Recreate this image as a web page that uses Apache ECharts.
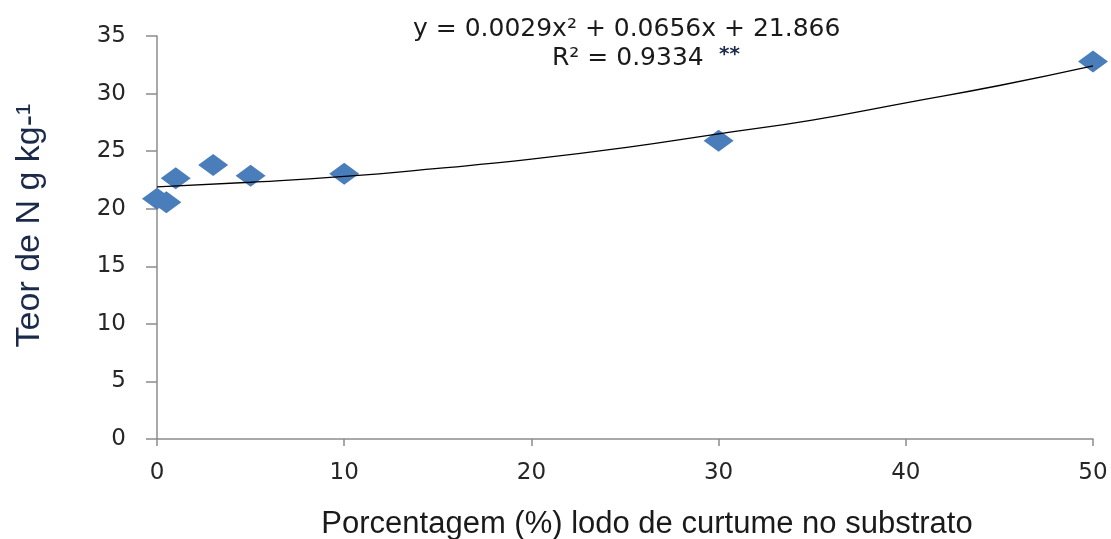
<!DOCTYPE html>
<html><head><meta charset="utf-8">
<script src="https://cdn.jsdelivr.net/npm/echarts@6/dist/echarts.min.js"></script>
<style>html,body{margin:0;padding:0;background:#fff}#c{width:1111px;height:539px}</style>
</head><body><div id="c"></div>
<script>
// Observed points: x = % tannery sludge, y = N content (g/kg)
const pctX = [0, 0.5, 1, 3, 5, 10, 30, 50];
const nValues = [20.86, 20.57, 22.65, 23.8, 22.86, 23.03, 25.9, 32.78];
// Trend curve
const trendX = [0, 5, 10, 15, 20, 25, 30, 35, 40, 45, 50];
const trendY = [21.9, 22.3, 22.8, 23.5, 24.3, 25.3, 26.5, 27.7, 29.2, 30.7, 32.4];
const xTicks = [0, 10, 20, 30, 40, 50];
const yTicks = [0, 5, 10, 15, 20, 25, 30, 35];
const equationText = 'y = 0.0029x² + 0.0656x + 21.866';
const r2Text = 'R² = 0.9334';
const xTitle = 'Porcentagem (%) lodo de curtume no substrato';
const yTitle = 'Teor de N g kg-¹';

const chart = echarts.init(document.getElementById('c'));
const axisGray = '#8c8c8c';
const tickFont = {fontFamily: 'DejaVu Sans', fontSize: 23, color: '#262626'};
chart.setOption({
  animation: false,
  grid: {left: 157, right: 18, top: 36, bottom: 100, containLabel: false, outerBoundsMode: 'none'},
  xAxis: {
    type: 'value', min: xTicks[0], max: xTicks[xTicks.length-1], interval: 10,
    axisLine: {show: true, onZero: false, lineStyle: {color: axisGray, width: 1.5}},
    axisTick: {show: true, length: 7, lineStyle: {color: axisGray, width: 1.5}},
    splitLine: {show: false},
    axisLabel: Object.assign({margin: 23}, tickFont),
    name: xTitle, nameLocation: 'middle', nameGap: 70,
    nameTextStyle: {fontFamily: 'Liberation Sans', fontSize: 31, color: '#1a1a1a', padding: [0, 0, 0, 44]}
  },
  yAxis: {
    type: 'value', min: yTicks[0], max: yTicks[yTicks.length-1], interval: 5,
    axisLine: {show: true, lineStyle: {color: axisGray, width: 1.5}},
    axisTick: {show: true, length: 11, lineStyle: {color: axisGray, width: 1.5}},
    splitLine: {show: false},
    axisLabel: Object.assign({margin: 31}, tickFont),
    name: yTitle, nameLocation: 'middle', nameGap: 110, nameRotate: 90,
    nameTextStyle: {fontFamily: 'Liberation Sans', fontSize: 34, color: '#1c2a4a', padding: [0, 0, 0, 24]}
  },
  series: [
    {
      type: 'line', data: trendX.map((x, i) => [x, trendY[i]]), smooth: true,
      showSymbol: false, lineStyle: {color: '#000', width: 1.3}, z: 3
    },
    {
      type: 'scatter', data: pctX.map((x, i) => [x, nValues[i]]),
      symbol: 'diamond', symbolSize: [30, 22],
      itemStyle: {color: '#4a7ebb', opacity: 1}, z: 2
    }
  ],
  graphic: [
    {type: 'text', x: 413, y: 29, style: {text: equationText, fontFamily: 'DejaVu Sans', fontSize: 25, fill: '#1a1a1a', textVerticalAlign: 'middle'}},
    {type: 'text', x: 552, y: 58, style: {text: r2Text, fontFamily: 'DejaVu Sans', fontSize: 25, fill: '#1a1a1a', textVerticalAlign: 'middle'}},
    {type: 'text', x: 719, y: 55, style: {text: '**', fontFamily: 'DejaVu Sans', fontSize: 20, fontWeight: 'bold', fill: '#1c2a4a', textVerticalAlign: 'middle'}}
  ]
});
</script></body></html>
